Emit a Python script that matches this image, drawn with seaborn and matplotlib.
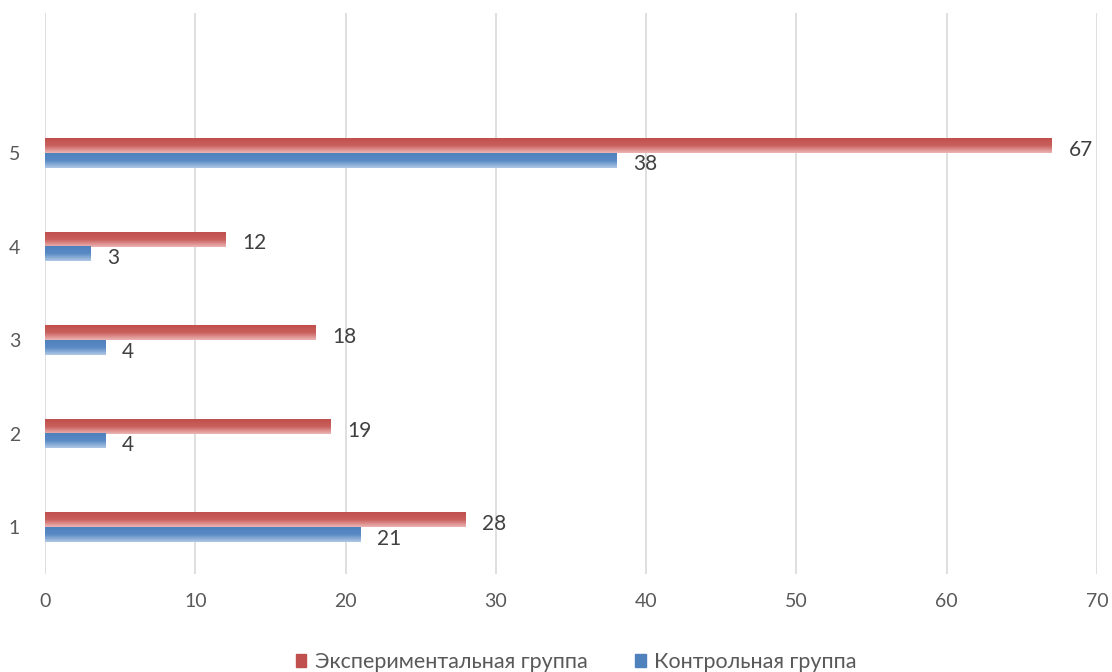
import numpy as np
import pandas as pd
import matplotlib
matplotlib.use('Agg')
import matplotlib.pyplot as plt
from matplotlib.colors import LinearSegmentedColormap
import seaborn as sns

# data
categories = ['5', '4', '3', '2', '1']
exp_values = [67, 12, 18, 19, 28]
ctrl_values = [38, 3, 4, 4, 21]
series_names = ['Экспериментальная группа', 'Контрольная группа']

df = pd.DataFrame({
    'cat': categories * 2,
    'value': exp_values + ctrl_values,
    'group': [series_names[0]] * 5 + [series_names[1]] * 5,
})

sns.set_style('white')
plt.rcParams['font.family'] = ['Lato', 'Open Sans', 'DejaVu Sans']

red = '#C0504D'
blue = '#4F81BD'
text_col = '#595959'

fig = plt.figure(figsize=(11.12, 6.72), dpi=100)
ax = fig.add_axes([0.0405, 0.146, 0.946, 0.835])

sns.barplot(data=df, y='cat', x='value', hue='group', order=categories,
            hue_order=series_names, palette=[red, blue], orient='h',
            width=0.31, ax=ax, legend=True)

# gradient fill on bars, dark on top to light at bottom
grads = {red: LinearSegmentedColormap.from_list('r', [red, '#C9605D', '#ECB5B4']),
         blue: LinearSegmentedColormap.from_list('b', [blue, '#5A8AC4', '#AFC8E6'])}
grad = np.linspace(0, 1, 50).reshape(-1, 1)
for i, cont in enumerate(ax.containers):
    col = [red, blue][i]
    for p in cont.patches:
        x0, y0 = p.get_x(), p.get_y()
        w, h = p.get_width(), p.get_height()
        p.set_alpha(0)
        ax.imshow(grad, cmap=grads[col], aspect='auto', origin='upper',
                  extent=[x0, x0 + w, y0 + h, y0], zorder=3,
                  interpolation='bilinear')
    labels = ax.bar_label(cont, padding=12, fontsize=15, color='#404040')
    for t in labels:
        t.set_position((12, -3))

ax.set_xlim(0, 70)
ax.set_ylim(4.5, -1.5)
ax.set_aspect('auto')

ax.set_xticks(range(0, 71, 10))
ax.grid(axis='x', color='#D9D9D9', linewidth=1.2)
ax.set_axisbelow(True)
for s in ax.spines.values():
    s.set_visible(False)
ax.tick_params(axis='both', length=0, labelsize=14, colors=text_col)
ax.tick_params(axis='x', pad=14)
ax.tick_params(axis='y', pad=18)
ax.set_xlabel('')
ax.set_ylabel('')

handles = [plt.Rectangle((0, 0), 1, 1, color=red),
           plt.Rectangle((0, 0), 1, 1, color=blue)]
ax.legend(handles, series_names, loc='upper center', bbox_to_anchor=(0.505, -0.105),
          ncol=2, frameon=False, fontsize=15.5, handlelength=0.5, handleheight=0.5,
          handletextpad=0.4, columnspacing=2.2, labelcolor=text_col)

fig.savefig('out.png', dpi=100)
